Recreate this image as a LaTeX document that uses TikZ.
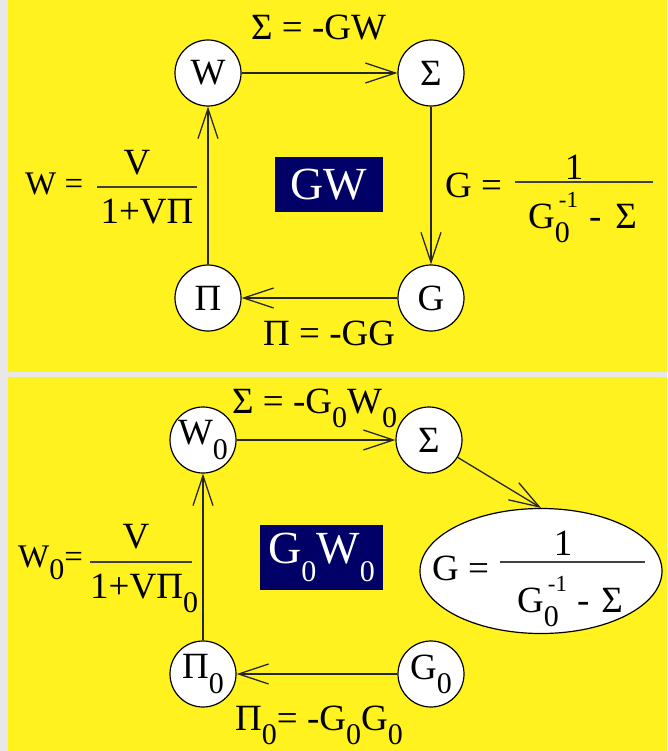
\documentclass[tikz,border=0pt]{standalone}
\usepackage{fontspec}
\setmainfont{Liberation Serif}
\newfontfamily\tms{Liberation Serif}
\usepackage{graphicx}
\usetikzlibrary{arrows.meta,shapes.geometric}
\definecolor{bgyellow}{HTML}{FFF21E}
\definecolor{bggrey}{HTML}{E8E8E8}
\definecolor{boxnavy}{HTML}{000066}
\newcommand\lz[1]{\raisebox{-0.38em}{\fontsize{30}{30}\selectfont #1}}
\newcommand\hz[1]{\raisebox{0.55em}{\fontsize{23}{23}\selectfont #1}}
\tikzset{
 every node/.style={font=\tms\fontsize{37}{40}\selectfont},
 qnode/.style={circle, draw=black, fill=white, line width=1.2pt, minimum size=66pt, inner sep=0pt},
 enode/.style={ellipse, draw=black, fill=white, line width=1.2pt, minimum width=242pt, minimum height=125pt, inner sep=0pt},
 lbl/.style={inner sep=0pt, anchor=base west},
 lblc/.style={inner sep=0pt, anchor=base},
 frc/.style={font=\tms\fontsize{37}{40}\selectfont},
 wlhs/.style={font=\tms\fontsize{33}{36}\selectfont},
 arr/.style={draw=black!85, line width=1.3pt, -{Straight Barb[length=30pt,width=20pt,line width=1.3pt]}},
 fbar/.style={draw=black!75, line width=1.5pt},
 tbox/.style={fill=boxnavy, text=white, font=\tms\fontsize{46}{48}\selectfont, inner sep=0pt},
}
\begin{document}
\begin{tikzpicture}[x=1pt,y=-1pt]
\useasboundingbox (0,0) rectangle (667,751);
\fill[bggrey] (0,0) rectangle (667,751);
\fill[bgyellow] (8,0) rectangle (667,372);
\fill[bgyellow] (8,377) rectangle (667,751);

% ---------- top panel: GW ----------
\node[qnode] (w) at (208,73) {W};
\node[qnode] (s) at (431,73) {Σ};
\node[qnode] (g) at (431,298) {G};
\node[qnode] (p) at (208,298) {Π};
\draw[arr] (w) -- (s);
\draw[arr] (s) -- (g);
\draw[arr] (g) -- (p);
\draw[arr] (p) -- (w);

\node[lbl] (ls) at (251,40) {Σ = -GW};
\node[lbl] (lp) at (263,345) {Π = -GG};

\node[lbl,wlhs] (lw) at (25,195) {W =};
\coordinate (wb1) at (97,187);
\coordinate (wb2) at (197,187);
\draw[fbar] (wb1) -- (wb2);
\node[lblc,frc] (wn) at (137,175) {V};
\node[lblc,frc] (wd) at (147,223) {1+VΠ};

\node[tbox, minimum width=108pt, minimum height=55pt] (gwbox) at (329,184.5) {GW};

\node[lbl,frc] (lg) at (445,198) {G =};
\coordinate (gb1) at (515,182);
\coordinate (gb2) at (653,182);
\draw[fbar] (gb1) -- (gb2);
\node[lblc,frc] (gn) at (574,180) {1};
\node[lbl,frc] (gd) at (528,228) {G\lz{0}\kern-11pt\hz{-1}\hspace{11pt}-\hspace{14pt}Σ};

% ---------- bottom panel: G0W0 ----------
\node[qnode] (w0) at (203,440) {W\lz{0}};
\node[qnode] (s0) at (429,440) {Σ};
\node[qnode] (g0) at (431,674) {G\lz{0}};
\node[qnode] (p0) at (203,674) {Π\lz{0}};
\node[enode] (ell) at (541,571) {};
\draw[arr] (w0) -- (s0);
\draw[arr] (s0) -- (ell.north);
\draw[arr] (g0) -- (p0);
\draw[arr] (p0) -- (w0);

\node[lbl] (ls0) at (232,413) {Σ = -G\lz{0}W\lz{0}};
\node[lbl] (lp0) at (235,730) {Π\lz{0}= -G\lz{0}G\lz{0}};

\node[lbl,wlhs] (lw0) at (18,567) {W\lz{0}=};
\coordinate (w0b1) at (90,562);
\coordinate (w0b2) at (192,562);
\draw[fbar] (w0b1) -- (w0b2);
\node[lblc,frc] (w0n) at (136,548) {V};
\node[lbl,frc] (w0d) at (90,598) {1+VΠ\lz{0}};

\node[tbox, minimum width=123pt, minimum height=65pt] (g0w0box) at (321.5,557.5) {G\lz{0}W\lz{0}};

\node[lbl,frc] (eg) at (432,580) {G =};
\coordinate (eb1) at (500,562);
\coordinate (eb2) at (645,562);
\draw[fbar] (eb1) -- (eb2);
\node[lblc,frc] (en) at (563,555) {1};
\node[lbl,frc] (ed) at (517,612) {G\lz{0}\kern-11pt\hz{-1}\hspace{10pt}-\hspace{12pt}Σ};
\end{tikzpicture}
\end{document}
